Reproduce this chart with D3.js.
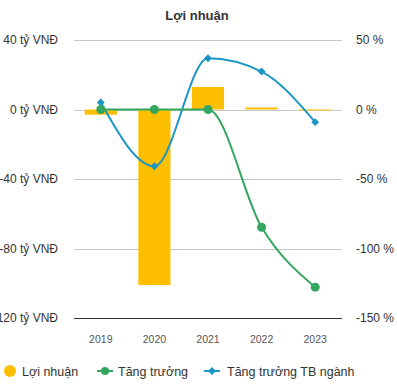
<!DOCTYPE html>
<html>
<head>
<meta charset="utf-8">
<script src="https://cdnjs.cloudflare.com/ajax/libs/d3/7.8.5/d3.min.js"></script>
<style>
  body { margin: 0; background: #fff; }
  text { font-family: "Liberation Sans", Arial, sans-serif; }
</style>
</head>
<body>
<div id="chart"></div>
<script>
// data
var years = ["2019", "2020", "2021", "2022", "2023"];
var profit = [-3, -101, 13, 1.2, -0.5];          // tỷ VNĐ
var growth = [0, 0, 0, -84.7, -127.8];           // %
var industryGrowth = [5, -40.8, 36.9, 27.3, -9.1]; // %
var leftTicks = [40, 0, -40, -80, -120];
var rightTicks = [50, 0, -50, -100, -150];

var width = 397, height = 389;
var plotLeft = 74, plotRight = 342, plotTop = 40, plotBottom = 318;

var barColor = "#fdbf00", greenColor = "#33a65f", blueColor = "#1b96c6";

var svg = d3.select("#chart").append("svg")
    .attr("width", width).attr("height", height);

var x = d3.scaleBand().domain(years).range([plotLeft, plotRight]).paddingInner(0.4).paddingOuter(0.2);
var xc = function(d){ return x(d) + x.bandwidth() / 2; };
var yL = d3.scaleLinear().domain([-120, 40]).range([plotBottom, plotTop]);
var yR = d3.scaleLinear().domain([-150, 50]).range([plotBottom, plotTop]);

// title
svg.append("text").attr("x", 197).attr("y", 20).attr("text-anchor", "middle")
    .style("font-size", "13px").style("font-weight", "bold").style("fill", "#333")
    .text("Lợi nhuận");

// gridlines
svg.append("g").selectAll("line").data(leftTicks).enter().append("line")
    .attr("x1", plotLeft).attr("x2", plotRight)
    .attr("y1", function(d){ return Math.round(yL(d)) + 0.5; })
    .attr("y2", function(d){ return Math.round(yL(d)) + 0.5; })
    .style("stroke", function(d){ return d === -120 ? "#333" : "#c8c8c8"; })
    .style("stroke-width", 1);

// left axis labels (the lowest one is clipped at the edge, as in the original)
svg.append("g").selectAll("text").data(leftTicks).enter().append("text")
    .attr("x", 58).attr("y", function(d){ return yL(d) + 4; })
    .attr("text-anchor", "end")
    .style("font-size", "12px").style("fill", "#333")
    .text(function(d){ return d + " tỷ VNĐ"; });

// right axis labels
svg.append("g").selectAll("text").data(rightTicks).enter().append("text")
    .attr("x", 356).attr("y", function(d){ return yR(d) + 4; })
    .style("font-size", "12px").style("fill", "#333")
    .text(function(d){ return d + " %"; });

// x labels
svg.append("g").selectAll("text").data(years).enter().append("text")
    .attr("x", xc).attr("y", 343).attr("text-anchor", "middle")
    .style("font-size", "10.5px").style("fill", "#555")
    .text(function(d){ return d; });

// bars
svg.append("g").selectAll("rect").data(profit).enter().append("rect")
    .attr("x", function(d, i){ return x(years[i]); })
    .attr("width", x.bandwidth())
    .attr("y", function(d){ return yL(Math.max(0, d)); })
    .attr("height", function(d){ return Math.max(1, Math.abs(yL(d) - yL(0))); })
    .style("fill", barColor);

var line = function(vals){
    return d3.line()
        .x(function(d, i){ return xc(years[i]); })
        .y(function(d){ return yR(d); })
        .curve(d3.curveMonotoneX)(vals);
};

// industry growth line (blue, diamonds)
svg.append("path").attr("d", line(industryGrowth))
    .style("fill", "none").style("stroke", blueColor).style("stroke-width", 2);
svg.append("g").selectAll("path").data(industryGrowth).enter().append("path")
    .attr("d", d3.symbol().type(d3.symbolDiamond2).size(40))
    .attr("transform", function(d, i){ return "translate(" + xc(years[i]) + "," + yR(d) + ")"; })
    .style("fill", blueColor);

// growth line (green, circles)
svg.append("path").attr("d", line(growth))
    .style("fill", "none").style("stroke", greenColor).style("stroke-width", 2);
svg.append("g").selectAll("circle").data(growth).enter().append("circle")
    .attr("cx", function(d, i){ return xc(years[i]); })
    .attr("cy", function(d){ return yR(d); })
    .attr("r", 4.5)
    .style("fill", greenColor);

// legend
var legendY = 371;
var lg = svg.append("g");
lg.append("circle").attr("cx", 10).attr("cy", legendY).attr("r", 6).style("fill", barColor);
lg.append("text").attr("x", 22).attr("y", legendY + 4.5).style("font-size", "12.5px").style("fill", "#333").text("Lợi nhuận");

lg.append("line").attr("x1", 97).attr("x2", 113).attr("y1", legendY).attr("y2", legendY)
    .style("stroke", greenColor).style("stroke-width", 2);
lg.append("circle").attr("cx", 105).attr("cy", legendY).attr("r", 4).style("fill", greenColor);
lg.append("text").attr("x", 118).attr("y", legendY + 4.5).style("font-size", "12.5px").style("fill", "#333").text("Tăng trưởng");

lg.append("line").attr("x1", 204).attr("x2", 220).attr("y1", legendY).attr("y2", legendY)
    .style("stroke", blueColor).style("stroke-width", 2);
lg.append("path").attr("d", d3.symbol().type(d3.symbolDiamond2).size(40))
    .attr("transform", "translate(212," + legendY + ")").style("fill", blueColor);
lg.append("text").attr("x", 227).attr("y", legendY + 4.5).style("font-size", "12.5px").style("fill", "#333").text("Tăng trưởng TB ngành");
</script>
</body>
</html>
